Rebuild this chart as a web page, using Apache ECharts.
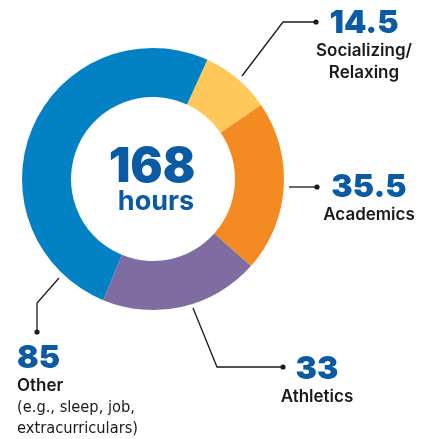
<!DOCTYPE html>
<html>
<head>
<meta charset="utf-8">
<script src="https://cdn.jsdelivr.net/npm/echarts@6/dist/echarts.min.js"></script>
<style>
html,body{margin:0;padding:0;background:#fff;}
#chart{width:431px;height:439px;}
</style>
</head>
<body>
<div id="chart"></div>
<script>
// ---- data ----
const categories = ['Socializing/\nRelaxing', 'Academics', 'Athletics', 'Other'];
const subNotes = ['', '', '', '(e.g., sleep, job,\nextracurriculars)'];
const values = [14.5, 35.5, 33, 85];
const colors = ['#FEC95A', '#F38A22', '#7F6CA0', '#0281C5'];
const centerUnit = 'hours';

// ---- layout (positions only) ----
const labelAnchors = [
  {x: 364, y: 6, align: 'center'},
  {x: 369, y: 170, align: 'center'},
  {x: 317, y: 352, align: 'center'},
  {x: 17, y: 341, align: 'left'}
];
const leaderLines = [
  [[242, 76], [283, 22], [316, 22]],
  [[289, 187], [303, 187], [317, 187]],
  [[193, 308], [217, 367], [283, 367]],
  [[59, 278], [37, 303], [37, 332]]
];

const total = values.reduce((a, b) => a + b, 0);
const numColor = '#0A5BA3';
const textColor = '#1a1a1a';

const chart = echarts.init(document.getElementById('chart'), null, {renderer: 'canvas'});

const data = categories.map((c, i) => ({
  name: c,
  value: values[i],
  itemStyle: {color: colors[i]}
}));

chart.setOption({
  animation: false,
  series: [{
    type: 'pie',
    center: [153, 179],
    radius: [82, 131],
    startAngle: 65.5,
    clockwise: true,
    silent: true,
    avoidLabelOverlap: false,
    minShowLabelAngle: 0,
    itemStyle: {borderWidth: 0},
    data: data,
    label: {
      show: true,
      position: 'outside',
      overflow: 'none',
      alignTo: 'none',
      bleedMargin: 0,
      formatter: function (p) {
        const i = p.dataIndex;
        const nameLines = categories[i].split('\n').map(s => '{n|' + s + '}');
        const noteLines = subNotes[i] ? subNotes[i].split('\n').map(s => '{s|' + s + '}') : [];
        return ['{v|' + values[i] + '}'].concat(nameLines, noteLines).join('\n');
      },
      rich: {
        v: {fontFamily: 'Inter', fontWeight: 900, fontSize: 32, lineHeight: 34, color: numColor},
        n: {fontFamily: 'Inter', fontWeight: 600, fontSize: 17, lineHeight: 22, color: textColor},
        s: {fontFamily: 'Liberation Sans Narrow, DejaVu Sans Condensed, sans-serif', fontWeight: 400, fontSize: 16.3, lineHeight: 21, color: textColor}
      }
    },
    labelLine: {
      show: true,
      lineStyle: {color: '#1a1a1a', width: 1.3}
    },
    labelLayout: function (params) {
      const i = params.dataIndex;
      const a = labelAnchors[i];
      return {
        x: a.x,
        y: a.y,
        align: a.align,
        verticalAlign: 'top',
        hideOverlap: false,
        moveOverlap: null,
        labelLinePoints: leaderLines[i]
      };
    }
  }],
  graphic: leaderLines.map(pts => ({
      type: 'circle',
      shape: {cx: pts[2][0], cy: pts[2][1], r: 2.6},
      style: {fill: '#1a1a1a'},
      silent: true
    })).concat([
      {
        type: 'text',
        x: 152,
        y: 168,
        style: {
          text: String(total),
          font: '900 48px Inter',
          fill: numColor,
          align: 'center',
          verticalAlign: 'middle'
        }
      },
      {
        type: 'text',
        x: 156,
        y: 202,
        style: {
          text: centerUnit,
          font: '700 27px Inter',
          fill: numColor,
          align: 'center',
          verticalAlign: 'middle'
        }
      }
    ])
});
</script>
</body>
</html>
